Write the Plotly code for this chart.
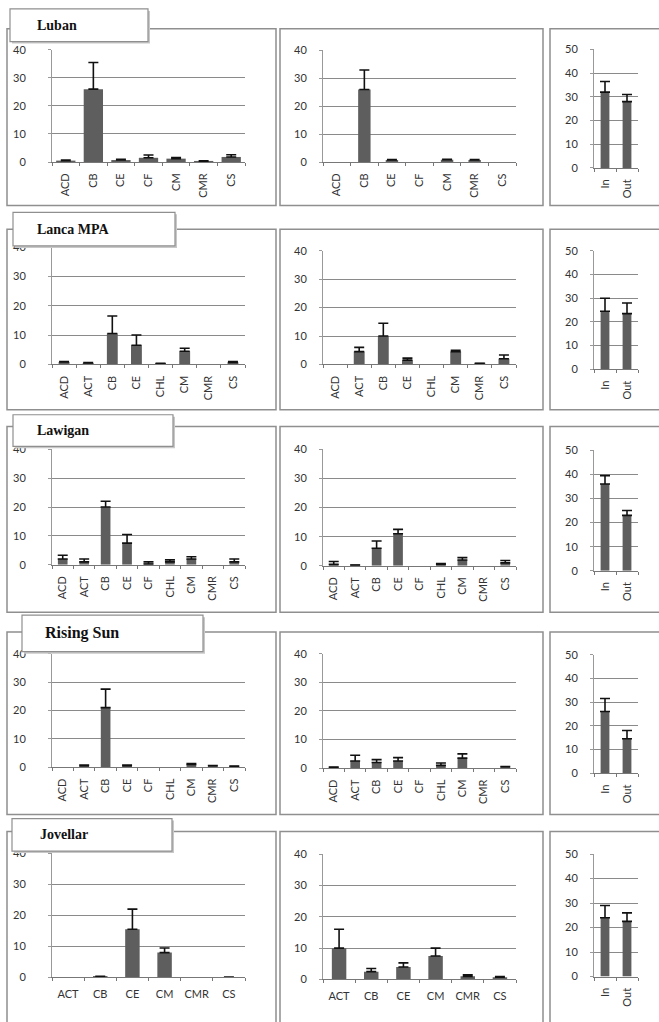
import plotly.graph_objects as go

# ---------------- data ----------------
site_names = ["Luban", "Lanca MPA", "Lawigan", "Rising Sun", "Jovellar"]

luban_a_cats = ["ACD", "CB", "CE", "CF", "CM", "CMR", "CS"]
luban_a_vals = [0.5, 26, 0.7, 1.5, 1.2, 0.3, 1.8]
luban_a_errs = [0.2, 9.5, 0.3, 1.0, 0.4, 0.1, 0.8]
luban_b_cats = ["ACD", "CB", "CE", "CF", "CM", "CMR", "CS"]
luban_b_vals = [0, 26, 0.7, 0, 0.8, 0.7, 0]
luban_b_errs = [0, 7, 0.2, 0, 0.2, 0.2, 0]
luban_c_cats = ["In", "Out"]
luban_c_vals = [32, 28]
luban_c_errs = [4.5, 3]

lanca_a_cats = ["ACD", "ACT", "CB", "CE", "CHL", "CM", "CMR", "CS"]
lanca_a_vals = [0.8, 0.5, 10.5, 6.5, 0.3, 4.5, 0, 0.7]
lanca_a_errs = [0.2, 0.1, 6, 3.5, 0.1, 1, 0, 0.3]
lanca_b_cats = ["ACD", "ACT", "CB", "CE", "CHL", "CM", "CMR", "CS"]
lanca_b_vals = [0, 4.5, 10, 1.5, 0, 4.5, 0.3, 2]
lanca_b_errs = [0, 1.5, 4.5, 0.7, 0, 0.5, 0.1, 1.3]
lanca_c_cats = ["In", "Out"]
lanca_c_vals = [24.5, 23.5]
lanca_c_errs = [5.5, 4.5]

lawigan_a_cats = ["ACD", "ACT", "CB", "CE", "CF", "CHL", "CM", "CMR", "CS"]
lawigan_a_vals = [2, 1, 20, 7.5, 0.3, 1, 2, 0, 1]
lawigan_a_errs = [1.3, 1, 2, 3, 0.7, 0.7, 0.8, 0, 1]
lawigan_b_cats = ["ACD", "ACT", "CB", "CE", "CF", "CHL", "CM", "CMR", "CS"]
lawigan_b_vals = [0.5, 0.2, 6, 11, 0, 0.5, 2, 0, 1]
lawigan_b_errs = [1, 0.1, 2.5, 1.5, 0, 0.3, 0.8, 0, 0.8]
lawigan_c_cats = ["In", "Out"]
lawigan_c_vals = [36, 23]
lawigan_c_errs = [3.5, 2]

rising_a_cats = ["ACD", "ACT", "CB", "CE", "CF", "CHL", "CM", "CMR", "CS"]
rising_a_vals = [0, 0.5, 21, 0.5, 0, 0, 1, 0.5, 0.3]
rising_a_errs = [0, 0.3, 6.5, 0.3, 0, 0, 0.3, 0.1, 0.1]
rising_b_cats = ["ACD", "ACT", "CB", "CE", "CF", "CHL", "CM", "CMR", "CS"]
rising_b_vals = [0.3, 2.5, 2, 2.5, 0, 1, 3.5, 0, 0.5]
rising_b_errs = [0.1, 2, 1, 1.2, 0, 0.8, 1.5, 0, 0.1]
rising_c_cats = ["In", "Out"]
rising_c_vals = [26, 14.5]
rising_c_errs = [5.5, 3.5]

jovellar_a_cats = ["ACT", "CB", "CE", "CM", "CMR", "CS"]
jovellar_a_vals = [0, 0.3, 15.5, 8, 0, 0.1]
jovellar_a_errs = [0, 0.1, 6.5, 1.5, 0, 0.05]
jovellar_b_cats = ["ACT", "CB", "CE", "CM", "CMR", "CS"]
jovellar_b_vals = [10, 2.5, 4, 7.5, 1, 0.7]
jovellar_b_errs = [6, 1, 1.3, 2.5, 0.5, 0.2]
jovellar_c_cats = ["In", "Out"]
jovellar_c_vals = [24, 22.5]
jovellar_c_errs = [5, 3.5]

panels = [
    [(luban_a_cats, luban_a_vals, luban_a_errs), (luban_b_cats, luban_b_vals, luban_b_errs), (luban_c_cats, luban_c_vals, luban_c_errs)],
    [(lanca_a_cats, lanca_a_vals, lanca_a_errs), (lanca_b_cats, lanca_b_vals, lanca_b_errs), (lanca_c_cats, lanca_c_vals, lanca_c_errs)],
    [(lawigan_a_cats, lawigan_a_vals, lawigan_a_errs), (lawigan_b_cats, lawigan_b_vals, lawigan_b_errs), (lawigan_c_cats, lawigan_c_vals, lawigan_c_errs)],
    [(rising_a_cats, rising_a_vals, rising_a_errs), (rising_b_cats, rising_b_vals, rising_b_errs), (rising_c_cats, rising_c_vals, rising_c_errs)],
    [(jovellar_a_cats, jovellar_a_vals, jovellar_a_errs), (jovellar_b_cats, jovellar_b_vals, jovellar_b_errs), (jovellar_c_cats, jovellar_c_vals, jovellar_c_errs)],
]

# ---------------- layout geometry (pixels) ----------------
W, H = 659, 1022
col_x = [(52, 245), (323, 516), (594, 638)]
row_y = [
    [(43.5, 157), (44, 157), (43, 163)],
    [(243, 362), (247, 362), (247, 367)],
    [(448, 565), (448, 566), (449, 571)],
    [(655, 770), (655, 771), (656, 776)],
    [(857, 983), (858, 985), (858, 982)],
]
box_rows = [(22, 201), (225, 408), (425, 613), (633, 818), (835, 1030)]
box_cols = [(7, 276), (280, 543), (550, 670)]
title_boxes = [(10, 2, 148, 35, 35, 14), (13, 208, 175, 242, 35, 14),
               (13, 413, 173, 445, 35, 14), (22, 616, 203, 653, 43, 16),
               (12, 822, 172, 855, 38, 14)]


def px(x):
    return x / W


def py(y):
    return 1 - y / H


fig = go.Figure()
layout = {}
GRID = "#8a8a8a"
TICKFONT = dict(family="Lato, Open Sans, sans-serif", size=11, color="#333333")

k = 0
for r in range(5):
    for c in range(3):
        k += 1
        cats, vals, errs = panels[r][c]
        sfx = "" if k == 1 else str(k)
        width = 0.4 if c == 2 else (0.7 if (r == 0 and c == 0) else 0.45)
        y_show = [v if v > 0 else None for v in vals]
        err_up = [e if v > 0 else None for v, e in zip(vals, errs)]
        err_dn = [0 if v > 0 else None for v in vals]
        fig.add_trace(go.Bar(
            x=cats, y=y_show, width=width,
            marker=dict(color="#5e5e5e", line=dict(width=0)),
            error_y=dict(type="data", array=err_up, arrayminus=err_dn,
                         symmetric=False, color="#111111", thickness=1.6, width=5),
            xaxis="x" + sfx, yaxis="y" + sfx, showlegend=False,
        ))
        x0, x1 = col_x[c]
        t, b = row_y[r][c]
        ymax = 50 if c == 2 else 40
        layout["xaxis" + sfx] = dict(
            domain=[px(x0), px(x1)], anchor="y" + sfx, type="category",
            categoryorder="array", categoryarray=cats,
            showline=True, linecolor="#777777", linewidth=1,
            ticks="outside", tickson="boundaries", ticklen=3, tickcolor="#777777",
            tickangle=0 if (r == 4 and c < 2) else -90, tickfont=TICKFONT,
            ticklabelstandoff=6, showgrid=False, fixedrange=True,
        )
        layout["yaxis" + sfx] = dict(
            domain=[py(b), py(t)], anchor="x" + sfx, range=[0, ymax], dtick=10,
            showline=True, linecolor="#999999", linewidth=1,
            showgrid=True, gridcolor=GRID, gridwidth=1, zeroline=False,
            ticks="outside", ticklen=3, tickcolor="#999999",
            tickfont=TICKFONT, ticklabelstandoff=20 if c == 0 else 10,
            fixedrange=True,
        )

shapes = []
for r in range(5):
    yt, yb = box_rows[r]
    for c in range(3):
        xl, xr = box_cols[c]
        shapes.append(dict(type="rect", xref="paper", yref="paper",
                           x0=px(xl), x1=px(xr), y0=py(yb), y1=py(yt),
                           line=dict(color="#8f8f8f", width=1.5), layer="below"))

annotations = []
for i, (x0, y0, x1, y1, tx, fs) in enumerate(title_boxes):
    shapes.append(dict(type="rect", xref="paper", yref="paper",
                       x0=px(x0 + 2), x1=px(x1 + 2), y0=py(y1 + 2), y1=py(y0 + 2),
                       line=dict(width=0), fillcolor="#c8c8c8", layer="above"))
    shapes.append(dict(type="rect", xref="paper", yref="paper",
                       x0=px(x0), x1=px(x1), y0=py(y1), y1=py(y0),
                       line=dict(color="#8f8f8f", width=1.2), fillcolor="white",
                       layer="above"))
    annotations.append(dict(text="<b>" + site_names[i] + "</b>", xref="paper", yref="paper",
                            x=px(tx), y=py((y0 + y1) / 2), xanchor="left", yanchor="middle",
                            showarrow=False,
                            font=dict(family="Liberation Serif, Times New Roman, serif",
                                      size=fs, color="#111111")))

fig.update_layout(
    width=W, height=H, margin=dict(l=0, r=0, t=0, b=0),
    paper_bgcolor="white", plot_bgcolor="white",
    shapes=shapes, annotations=annotations, bargap=0.5,
    **layout,
)

fig.write_html("out.html", config={"displayModeBar": False},
               post_script="document.body.style.margin='0';document.body.style.overflow='hidden';")
